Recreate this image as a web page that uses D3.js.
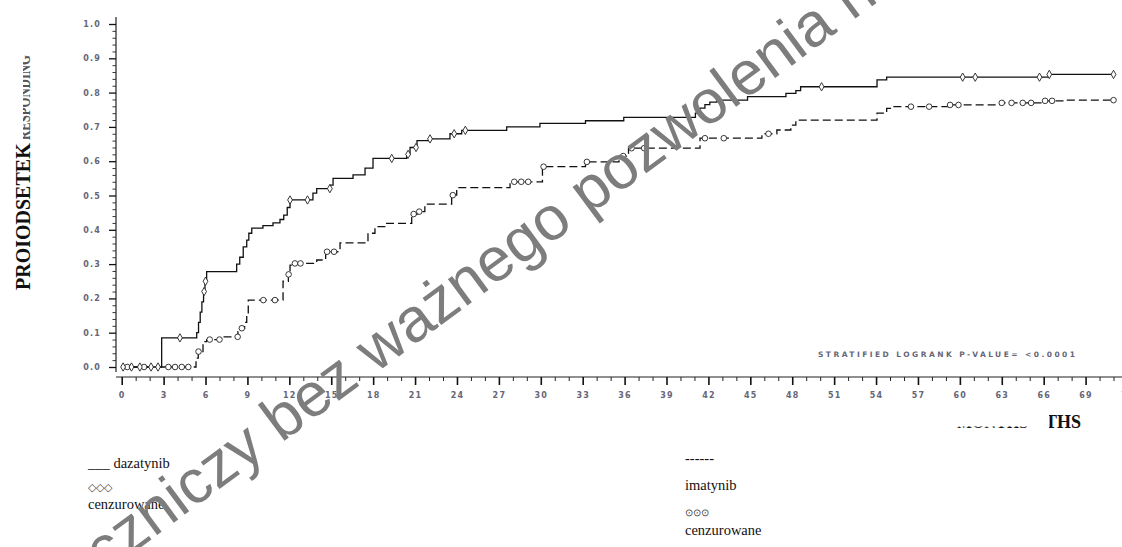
<!DOCTYPE html>
<html>
<head>
<meta charset="utf-8">
<script src="https://cdn.jsdelivr.net/npm/d3@7"></script>
<style>
  body { margin: 0; background: #fff; }
  svg { display: block; }
  .tick text { font-family: "DejaVu Sans", sans-serif; font-size: 8px; font-weight: bold; fill: #667; letter-spacing: 1.2px; }
</style>
</head>
<body>
<svg id="chart" width="1122" height="547"></svg>
<script>
// dazatynib (solid) - cumulative proportion, step times in months
var dasaTimes = [0, 2.86, 5.37, 5.5, 5.62, 5.74, 5.86, 5.96, 6.08, 8.23, 8.45, 8.7, 8.95, 9.1, 9.31, 10.11, 10.83, 11.33, 11.6, 11.85, 12.05, 13.69, 13.96, 14.91, 15.13, 16.56, 17.42, 17.99, 20.4, 20.64, 21.14, 22.07, 23.5, 24.34, 27.56, 29.94, 33.2, 35.94, 41.07, 41.4, 41.75, 42.1, 42.6, 44.8, 47.55, 48.26, 48.6, 54.07, 54.76, 66.4, 71.0];
var dasaVals  = [0, 0.085, 0.10, 0.13, 0.16, 0.19, 0.22, 0.25, 0.278, 0.30, 0.32, 0.35, 0.37, 0.39, 0.405, 0.412, 0.42, 0.43, 0.443, 0.465, 0.487, 0.507, 0.52, 0.53, 0.55, 0.56, 0.58, 0.608, 0.62, 0.64, 0.66, 0.665, 0.68, 0.69, 0.70, 0.71, 0.718, 0.728, 0.74, 0.755, 0.765, 0.772, 0.778, 0.788, 0.798, 0.806, 0.817, 0.837, 0.845, 0.853, 0.853];
var dasaCens  = [0.1, 0.7, 1.3, 2.1, 2.6, 4.17, 5.9, 6.0, 12.05, 13.3, 14.9, 19.33, 20.5, 21.07, 22.07, 23.8, 24.6, 50.1, 60.2, 61.1, 65.7, 66.4, 71.0];

// imatynib (dashed)
var imaTimes = [0, 5.32, 5.48, 5.82, 6.08, 7.04, 8.32, 8.59, 8.8, 8.95, 9.06, 11.55, 11.93, 12.05, 12.3, 13.96, 14.6, 15.63, 17.63, 18.13, 18.97, 20.76, 21.2, 21.7, 23.62, 23.98, 27.8, 30.12, 33.2, 35.6, 36.28, 41.4, 45.83, 46.9, 47.9, 48.26, 54.07, 54.76, 55.2, 59.2, 62.9, 66.0, 67.7, 71.0];
var imaVals  = [0, 0.026, 0.045, 0.074, 0.08, 0.088, 0.103, 0.113, 0.13, 0.15, 0.195, 0.25, 0.27, 0.297, 0.302, 0.312, 0.336, 0.362, 0.39, 0.409, 0.419, 0.446, 0.453, 0.475, 0.501, 0.523, 0.54, 0.584, 0.598, 0.615, 0.638, 0.667, 0.68, 0.691, 0.705, 0.72, 0.74, 0.754, 0.759, 0.764, 0.77, 0.776, 0.778, 0.778];
var imaCens  = [0.4, 1.6, 3.34, 3.82, 4.3, 4.77, 5.5, 6.3, 7.0, 8.3, 8.6, 10.14, 10.97, 11.95, 12.4, 12.8, 14.7, 15.2, 20.9, 21.3, 23.7, 28.1, 28.6, 29.1, 30.2, 33.3, 35.9, 36.5, 37.4, 41.75, 43.1, 46.3, 56.5, 57.8, 59.3, 59.9, 63.0, 63.7, 64.5, 65.1, 66.1, 66.6, 71.0];

var xTicks = d3.range(0, 73, 3);
var yTicks = d3.range(0, 11).map(function(i) { return i / 10; });

var svg = d3.select("#chart");
var defs = svg.append("defs");

var x = d3.scaleLinear().domain([0, 72]).range([121.7, 1127.5]);
var y = d3.scaleLinear().domain([0, 1]).range([367, 24]);

// axes
svg.append("line").attr("x1", 116).attr("x2", 116).attr("y1", 17).attr("y2", 372)
    .attr("stroke", "#222").attr("stroke-width", 1.2);
svg.append("line").attr("x1", 116).attr("x2", 1122).attr("y1", 377).attr("y2", 377)
    .attr("stroke", "#222").attr("stroke-width", 1.2);

var gx = svg.append("g").attr("transform", "translate(0,377)")
    .call(d3.axisBottom(x).tickValues(xTicks).tickSize(8).tickPadding(7).tickFormat(d3.format("d")));
gx.select(".domain").remove();
gx.selectAll(".tick line").attr("stroke", "#111").attr("stroke-width", 1.6);

var gxm = svg.append("g").attr("transform", "translate(0,377)")
    .call(d3.axisBottom(x).tickValues(d3.range(0, 73).filter(function(d) { return d % 3 != 0; })).tickSize(4).tickFormat(""));
gxm.select(".domain").remove();
gxm.selectAll(".tick line").attr("stroke", "#222");

var gy = svg.append("g").attr("transform", "translate(116,0)")
    .call(d3.axisLeft(y).tickValues(yTicks).tickSize(7).tickPadding(8).tickFormat(d3.format(".1f")));
gy.select(".domain").remove();
gy.selectAll(".tick line").attr("stroke", "#111").attr("stroke-width", 1.3);

var gym = svg.append("g").attr("transform", "translate(116,0)")
    .call(d3.axisLeft(y).tickValues(d3.range(0, 51).map(function(i) { return i / 50; }).filter(function(d, i) { return i % 5 != 0; })).tickSize(3.5).tickFormat(""));
gym.select(".domain").remove();
gym.selectAll(".tick line").attr("stroke", "#333");

// curves
var line = d3.line()
    .x(function(d) { return x(d[0]); })
    .y(function(d) { return y(d[1]); })
    .curve(d3.curveStepAfter);

function pairs(t, v) { return t.map(function(d, i) { return [d, v[i]]; }); }
function stepAt(t, v, m) { return v[Math.max(0, d3.bisectRight(t, m) - 1)]; }

svg.append("path").datum(pairs(imaTimes, imaVals)).attr("d", line)
    .attr("fill", "none").attr("stroke", "#111").attr("stroke-width", 1.3).attr("stroke-dasharray", "8,4");
svg.append("path").datum(pairs(dasaTimes, dasaVals)).attr("d", line)
    .attr("fill", "none").attr("stroke", "#111").attr("stroke-width", 1.3);

// censored marks
svg.selectAll(".cima").data(imaCens).enter().append("circle")
    .attr("class", "cima")
    .attr("cx", function(d) { return x(d); })
    .attr("cy", function(d) { return y(stepAt(imaTimes, imaVals, d)); })
    .attr("r", 2.8)
    .attr("fill", "#fff").attr("stroke", "#222").attr("stroke-width", 0.9);

var diamond = d3.symbol().type(d3.symbolDiamond).size(20);
svg.selectAll(".cdasa").data(dasaCens).enter().append("path")
    .attr("class", "cdasa")
    .attr("d", diamond)
    .attr("transform", function(d) { return "translate(" + x(d) + "," + y(stepAt(dasaTimes, dasaVals, d)) + ")"; })
    .attr("fill", "#fff").attr("stroke", "#222").attr("stroke-width", 0.9);

// p-value
svg.append("text").attr("x", 818).attr("y", 357)
    .attr("textLength", 257).attr("lengthAdjust", "spacing")
    .style("font-family", "DejaVu Sans, sans-serif").style("font-size", "7.5px").style("font-weight", "bold").style("fill", "#667")
    .text("STRATIFIED LOGRANK P-VALUE= <0.0001");

// y label
svg.append("text").attr("transform", "translate(30,290) rotate(-90)")
    .style("font-family", "Liberation Serif, serif").style("font-weight", "bold").style("font-size", "20px").style("fill", "#111")
    .text("PROIODSETEK");

defs.append("clipPath").attr("id", "clipY").append("rect").attr("x", 23).attr("y", 40).attr("width", 10).attr("height", 105);
svg.append("g").attr("clip-path", "url(#clipY)").append("text").attr("transform", "translate(30,140) rotate(-90)")
    .attr("textLength", 85).attr("lengthAdjust", "spacingAndGlyphs")
    .style("font-family", "Liberation Serif, serif").style("font-weight", "bold").style("font-size", "16px").style("fill", "#555")
    .text("RESPONDING");

// x label pieces
defs.append("clipPath").attr("id", "clipX").append("rect").attr("x", 955).attr("y", 426.5).attr("width", 72).attr("height", 2);
svg.append("g").attr("clip-path", "url(#clipX)").append("text").attr("x", 957).attr("y", 428)
    .style("font-family", "Liberation Serif, serif").style("font-weight", "bold").style("font-size", "16px").style("fill", "#111")
    .text("MONTHS");
defs.append("clipPath").attr("id", "clipT").append("rect").attr("x", 1049).attr("y", 405).attr("width", 60).attr("height", 30);
svg.append("g").attr("clip-path", "url(#clipT)").append("text").attr("x", 1045).attr("y", 428)
    .style("font-family", "Liberation Serif, serif").style("font-weight", "bold").style("font-size", "18px").style("fill", "#111")
    .text("THS");

// legend
function legendText(xx, yy, s, size, col) {
    svg.append("text").attr("x", xx).attr("y", yy)
        .style("font-family", "Liberation Serif, serif").style("font-size", size + "px").style("fill", col || "#111")
        .text(s);
}
legendText(88, 468, "___ dazatynib", 14.5);
legendText(88, 491, "◇◇◇", 11, "#444");
legendText(88, 509, "cenzurowane", 14.5);
legendText(685, 463, "------", 14.5);
legendText(685, 490, "imatynib", 14.5);
legendText(685, 516, "⊙⊙⊙", 10, "#444");
legendText(685, 535, "cenzurowane", 14.5);

// watermark, placed by the "n" of "na" near the top edge
var ang = 36.5;
var wmText = "Produkt leczniczy bez ważnego pozwolenia na dopuszczenie do obrotu";
var wm = svg.append("text")
    .style("font-family", "Liberation Sans, sans-serif").style("font-size", "62px").style("fill", "#7d7d7d")
    .text(wmText);
var off = wm.node().getSubStringLength(0, wmText.indexOf("na dop"));
var rad = ang * Math.PI / 180;
wm.attr("transform", "translate(" + (852 - off * Math.cos(rad)) + "," + (21 + off * Math.sin(rad)) + ") rotate(" + (-ang) + ")");
</script>
</body>
</html>
